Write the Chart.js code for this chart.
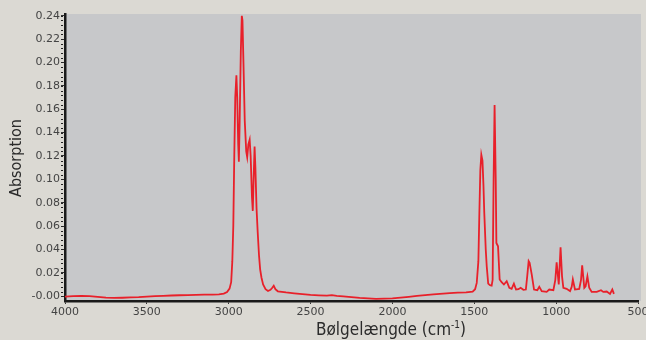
<!DOCTYPE html>
<html>
<head>
<meta charset="utf-8">
<script src="https://cdn.jsdelivr.net/npm/chart.js@4.4.1/dist/chart.umd.min.js"></script>
<style>
  html, body { margin: 0; padding: 0; background: #dbd9d3; }
  #wrap { width: 646px; height: 340px; position: relative; }
</style>
</head>
<body>
<div id="wrap"><canvas id="chart" width="646" height="340"></canvas></div>
<script>
// spectrum
const wavenumbers = [
  4000, 3950, 3900, 3850, 3800, 3750, 3700, 3650, 3600, 3550, 3500, 3450, 3400, 3350, 3300, 3250,
  3200, 3150, 3100, 3060, 3030, 3010, 2995, 2985, 2978, 2972, 2966, 2960, 2953, 2948, 2942, 2938,
  2933, 2926, 2920, 2916, 2910, 2902, 2893, 2887, 2880, 2872, 2866, 2858, 2853, 2848, 2842, 2837,
  2830, 2823, 2815, 2808, 2800, 2790, 2775, 2760, 2745, 2735, 2725, 2715, 2700, 2650, 2600, 2550,
  2500, 2450, 2400, 2370, 2340, 2300, 2250, 2200, 2150, 2100, 2050, 2000, 1950, 1900, 1850, 1800,
  1750, 1710, 1650, 1600, 1550, 1510, 1495, 1485, 1475, 1469, 1463, 1457, 1450, 1444, 1439, 1430,
  1424, 1415, 1404, 1394, 1388, 1382, 1376, 1369, 1365, 1355, 1345, 1333, 1319, 1302, 1286, 1272,
  1258, 1245, 1230, 1217, 1200, 1185, 1176, 1168, 1162, 1149, 1135, 1115, 1103, 1088, 1058, 1042,
  1017, 1005, 997, 984, 973, 964, 956, 936, 915, 905, 898, 885, 859, 848, 841, 828,
  820, 809, 798, 783, 752, 726, 712, 691, 671, 657, 647
];
const absorbance = [
  -0.0003, 0.0000, 0.0002, 0.0000, -0.0006, -0.0012, -0.0015, -0.0013, -0.0010, -0.0008, -0.0004, 0.0000, 0.0003, 0.0006, 0.0008, 0.0010,
  0.0012, 0.0014, 0.0014, 0.0016, 0.0022, 0.0035, 0.0065, 0.012, 0.030, 0.060, 0.120, 0.170, 0.189, 0.170, 0.130, 0.115,
  0.150, 0.210, 0.240, 0.236, 0.200, 0.150, 0.124, 0.119, 0.130, 0.134, 0.120, 0.085, 0.073, 0.100, 0.128, 0.110,
  0.075, 0.055, 0.035, 0.023, 0.016, 0.010, 0.006, 0.0045, 0.0055, 0.007, 0.009, 0.006, 0.0042, 0.0032, 0.0025, 0.0018,
  0.0012, 0.0008, 0.0005, 0.0009, 0.0003, -0.0002, -0.0008, -0.0015, -0.0018, -0.0022, -0.0020, -0.0018, -0.0012, -0.0005, 0.0003, 0.0010,
  0.0016, 0.0020, 0.0026, 0.0030, 0.0033, 0.0040, 0.0060, 0.0114, 0.030, 0.071, 0.108, 0.121, 0.116, 0.095, 0.0715, 0.040,
  0.0256, 0.0108, 0.0095, 0.0091, 0.014, 0.0997, 0.1637, 0.0997, 0.0456, 0.0427, 0.0143, 0.012, 0.010, 0.0128, 0.0072, 0.0063,
  0.0108, 0.0057, 0.0060, 0.0072, 0.0055, 0.0057, 0.018, 0.030, 0.0285, 0.0185, 0.0057, 0.0051, 0.008, 0.0043, 0.0037, 0.0057,
  0.0051, 0.014, 0.029, 0.010, 0.0419, 0.017, 0.0072, 0.0063, 0.0043, 0.008, 0.0143, 0.0057, 0.0063, 0.014, 0.0265, 0.0072,
  0.0085, 0.017, 0.0072, 0.0037, 0.0037, 0.0051, 0.0037, 0.004, 0.002, 0.0057, 0.002
];
const xTicks = [4000, 3500, 3000, 2500, 2000, 1500, 1000, 500];
const yTicks = [0, 0.02, 0.04, 0.06, 0.08, 0.10, 0.12, 0.14, 0.16, 0.18, 0.20, 0.22, 0.24];
const yMinorStep = 0.004;

const tickFont = { family: "'DejaVu Sans', sans-serif", size: 11 };
const titleFamily = "'DejaVu Sans Condensed', 'Liberation Sans', sans-serif";

// gray plot area behind the line
const plotBackground = {
  id: "plotBackground",
  beforeDraw(chart) {
    const { ctx, chartArea, width, height } = chart;
    ctx.save();
    ctx.fillStyle = "#dbd9d3";
    ctx.fillRect(0, 0, width, height);
    ctx.fillStyle = "#c7c8ca";
    ctx.fillRect(chartArea.left, chartArea.top, chartArea.right - chartArea.left + 3, chartArea.bottom - chartArea.top);
    ctx.restore();
  },
};

// minor ticks on the y axis and the two axis titles
const extras = {
  id: "extras",
  afterDraw(chart) {
    const { ctx, chartArea } = chart;
    const y = chart.scales.y;
    ctx.save();
    ctx.fillStyle = "#222";
    for (let v = 0; v <= 0.2401; v += yMinorStep) {
      const py = Math.round(y.getPixelForValue(v));
      ctx.fillRect(chartArea.left - 4, py, 2, 1);
    }

    ctx.fillStyle = "#2b2b2b";
    // y title
    ctx.save();
    ctx.translate(17, 158);
    ctx.rotate(-Math.PI / 2);
    ctx.font = "16px " + titleFamily;
    ctx.textAlign = "center";
    ctx.textBaseline = "middle";
    ctx.fillText("Absorption", 0, 0);
    ctx.restore();

    // x title with superscript
    const main = "Bølgelængde (cm";
    const sup = "-1";
    const close = ")";
    ctx.textBaseline = "alphabetic";
    ctx.textAlign = "left";
    ctx.font = "17px " + titleFamily;
    const w1 = ctx.measureText(main).width;
    const w3 = ctx.measureText(close).width;
    ctx.font = "10px " + titleFamily;
    const w2 = ctx.measureText(sup).width;
    let x = 391 - (w1 + w2 + w3) / 2;
    const base = 335;
    ctx.font = "17px " + titleFamily;
    ctx.fillText(main, x, base);
    x += w1;
    ctx.font = "10px " + titleFamily;
    ctx.fillText(sup, x, base - 7);
    x += w2;
    ctx.font = "17px " + titleFamily;
    ctx.fillText(close, x, base);
    ctx.restore();
  },
};

const ctx = document.getElementById("chart").getContext("2d");
new Chart(ctx, {
  type: "line",
  data: {
    datasets: [
      {
        label: "Absorption",
        data: wavenumbers.map((w, i) => ({ x: w, y: absorbance[i] })),
        borderColor: "#e8202a",
        borderWidth: 1.8,
        pointRadius: 0,
        tension: 0,
        fill: false,
      },
    ],
  },
  options: {
    responsive: false,
    animation: false,
    layout: { padding: { left: 0, right: 8, top: 14, bottom: 0 } },
    plugins: { legend: { display: false }, tooltip: { enabled: false } },
    scales: {
      x: {
        type: "linear",
        reverse: true,
        min: 500,
        max: 4000,
        afterBuildTicks(scale) {
          scale.ticks = xTicks.map((v) => ({ value: v }));
        },
        afterFit(scale) {
          scale.height = 39;
          scale.paddingLeft = 0;
          scale.paddingRight = 0;
        },
        ticks: {
          font: tickFont,
          color: "#444",
          padding: 2,
          maxRotation: 0,
          autoSkip: false,
          callback: (v) => String(v),
        },
        grid: { drawOnChartArea: false, drawTicks: true, tickLength: 3, color: "#333" },
        border: { display: true, color: "#1a1a1a", width: 2.5 },
      },
      y: {
        type: "linear",
        min: -0.0041,
        max: 0.2415,
        afterBuildTicks(scale) {
          scale.ticks = yTicks.map((v) => ({ value: v }));
        },
        afterFit(scale) {
          scale.width = 65;
        },
        ticks: {
          font: tickFont,
          color: "#444",
          padding: 1,
          autoSkip: false,
          callback: (v) => (v === 0 ? "-0.00" : v.toFixed(2)),
        },
        grid: { drawOnChartArea: false, drawTicks: true, tickLength: 4, color: "#333" },
        border: { display: true, color: "#1a1a1a", width: 2.5 },
      },
    },
  },
  plugins: [plotBackground, extras],
});
</script>
</body>
</html>
